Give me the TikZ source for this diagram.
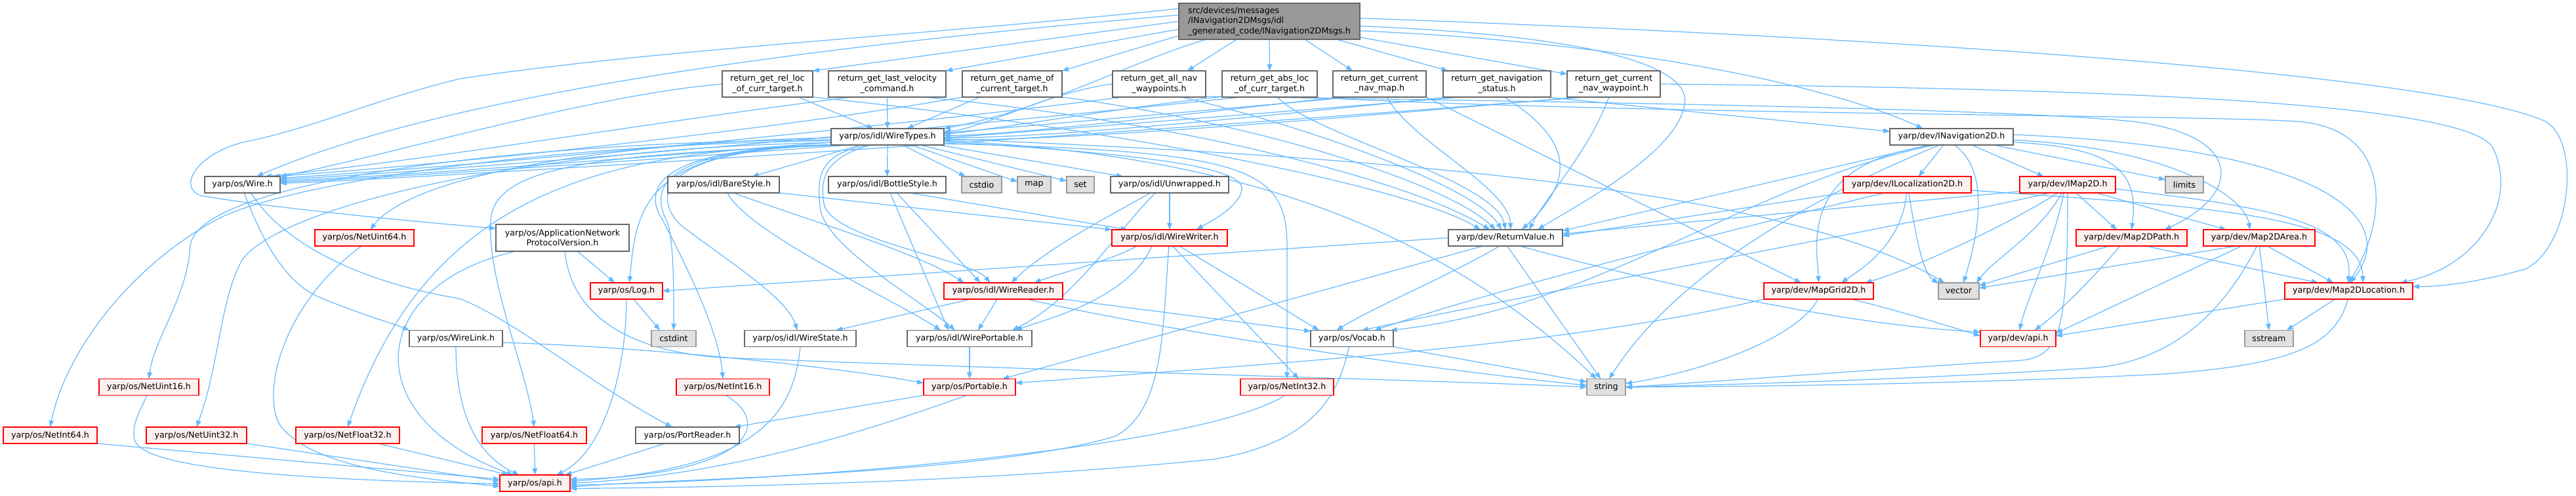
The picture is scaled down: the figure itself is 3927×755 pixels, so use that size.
\documentclass[tikz,border=0pt]{standalone}
\usepackage{fontspec}
\setmainfont{DejaVu Sans}
\usetikzlibrary{arrows.meta}
\pgfdeclarelayer{bg}
\pgfsetlayers{bg,main}
\definecolor{edgec}{HTML}{63B8FF}
\definecolor{bordg}{HTML}{666666}
\definecolor{redb}{HTML}{FF0000}
\definecolor{redf}{HTML}{FFF0F0}
\definecolor{extf}{HTML}{E0E0E0}
\definecolor{extb}{HTML}{999999}
\definecolor{mainf}{HTML}{999999}
\tikzset{
  base/.style={rectangle, inner sep=0pt, outer sep=0pt, line width=1.3pt, font=\fontsize{12.7}{15.5}\selectfont, align=center, text=black},
  nd/.style={base, draw=bordg, fill=white},
  nr/.style={base, draw=redb, fill=redf},
  ng/.style={base, draw=extb, fill=extf},
  nm/.style={base, draw=bordg, fill=mainf, align=left},
  sz/.style 2 args={minimum width=#1pt, minimum height=#2pt},
  e/.style={draw=edgec, line width=1.2pt, -{Triangle[length=10pt,width=7.5pt]}},
}
\begin{document}
\begin{tikzpicture}[x=1pt,y=1pt]
\useasboundingbox (0,0) rectangle (3927,755);
% ---------- nodes ----------
\node[nm, sz={276}{55}] (m) at (1935,722.5) {src/devices/messages\\/INavigation2DMsgs/idl\\\_generated\_code/INavigation2DMsgs.h};
\node[nd, sz={138}{40}] (rel) at (1170,627) {return\_get\_rel\_loc\\\_of\_curr\_target.h};
\node[nd, sz={179}{40}] (lastvel) at (1352.5,627) {return\_get\_last\_velocity\\\_command.h};
\node[nd, sz={152}{40}] (name) at (1543,627) {return\_get\_name\_of\\\_current\_target.h};
\node[nd, sz={142}{40}] (allnav) at (1767,627) {return\_get\_all\_nav\\\_waypoints.h};
\node[nd, sz={145}{40}] (absloc) at (1935.5,627) {return\_get\_abs\_loc\\\_of\_curr\_target.h};
\node[nd, sz={142}{40}] (curmap) at (2103,627) {return\_get\_current\\\_nav\_map.h};
\node[nd, sz={164}{40}] (navstat) at (2282,627) {return\_get\_navigation\\\_status.h};
\node[nd, sz={142}{40}] (curwp) at (2460,627) {return\_get\_current\\\_nav\_waypoint.h};
\node[nd, sz={172}{25}] (wt) at (1353,546.5) {yarp/os/idl/WireTypes.h};
\node[nd, sz={188}{25}] (inav) at (2975,546.5) {yarp/dev/INavigation2D.h};
\node[nd, sz={115}{25}] (wire) at (369.5,473.5) {yarp/os/Wire.h};
\node[nd, sz={170}{25}] (bare) at (1103,473.5) {yarp/os/idl/BareStyle.h};
\node[nd, sz={179}{25}] (bottle) at (1352.5,473.5) {yarp/os/idl/BottleStyle.h};
\node[ng, sz={61}{25}] (cstdio) at (1496.5,473.5) {cstdio};
\node[ng, sz={51}{25}] (map) at (1576.5,473.5) {map};
\node[ng, sz={42}{25}] (set) at (1647,473.5) {set};
\node[nd, sz={180}{25}] (unwr) at (1783,473.5) {yarp/os/idl/Unwrapped.h};
\node[nr, sz={195}{25}] (iloc) at (2907.5,473.5) {yarp/dev/ILocalization2D.h};
\node[nr, sz={146}{25}] (imap) at (3152,473.5) {yarp/dev/IMap2D.h};
\node[ng, sz={58}{25}] (limits) at (3330,473.5) {limits};
\node[nd, sz={203}{41}] (appnet) at (857.5,392.5) {yarp/os/ApplicationNetwork\\ProtocolVersion.h};
\node[nr, sz={151}{25}] (nu64) at (555.5,392.5) {yarp/os/NetUint64.h};
\node[nr, sz={176}{25}] (ww) at (1783,392.5) {yarp/os/idl/WireWriter.h};
\node[nd, sz={174}{25}] (rv) at (2295,392.5) {yarp/dev/ReturnValue.h};
\node[nr, sz={169}{25}] (m2dpath) at (3249.5,392.5) {yarp/dev/Map2DPath.h};
\node[nr, sz={170}{25}] (m2darea) at (3444,392.5) {yarp/dev/Map2DArea.h};
\node[nr, sz={110}{25}] (log) at (955,311.5) {yarp/os/Log.h};
\node[nr, sz={181}{25}] (wr) at (1529.5,311.5) {yarp/os/idl/WireReader.h};
\node[nr, sz={167}{25}] (mapgrid) at (2772.5,311.5) {yarp/dev/MapGrid2D.h};
\node[ng, sz={62}{25}] (vector) at (2986,311.5) {vector};
\node[nr, sz={195}{25}] (m2dloc) at (3580.5,311.5) {yarp/dev/Map2DLocation.h};
\node[nd, sz={142}{25}] (wlink) at (695,239) {yarp/os/WireLink.h};
\node[ng, sz={68}{25}] (cstdint) at (1027,239) {cstdint};
\node[nd, sz={170}{25}] (wstate) at (1220,239) {yarp/os/idl/WireState.h};
\node[nd, sz={190}{25}] (wport) at (1478,239) {yarp/os/idl/WirePortable.h};
\node[nd, sz={126}{25}] (vocab) at (2061,239) {yarp/os/Vocab.h};
\node[nr, sz={115}{25}] (apidev) at (3076.5,239) {yarp/dev/api.h};
\node[ng, sz={74}{25}] (sstream) at (3459,239) {sstream};
\node[nr, sz={152}{25}] (nu16) at (227,165) {yarp/os/NetUint16.h};
\node[nr, sz={142}{25}] (ni16) at (1102,165) {yarp/os/NetInt16.h};
\node[nr, sz={140}{25}] (portable) at (1478,165) {yarp/os/Portable.h};
\node[nr, sz={142}{25}] (ni32) at (1962,165) {yarp/os/NetInt32.h};
\node[ng, sz={59}{25}] (string) at (2448.5,165) {string};
\node[nr, sz={143}{25}] (ni64) at (76.5,91.5) {yarp/os/NetInt64.h};
\node[nr, sz={153}{25}] (nu32) at (299.5,91.5) {yarp/os/NetUint32.h};
\node[nr, sz={158}{25}] (nf32) at (530,91.5) {yarp/os/NetFloat32.h};
\node[nr, sz={159}{25}] (nf64) at (814.5,91.5) {yarp/os/NetFloat64.h};
\node[nd, sz={158}{25}] (portreader) at (1048,91.5) {yarp/os/PortReader.h};
\node[nr, sz={107}{25}] (apios) at (815.5,18.5) {yarp/os/api.h};
% ---------- edges ----------
\begin{pgfonlayer}{bg}
% main
\draw[e] (m.172) .. controls (1400,700) and (1000,680) .. (701,635) .. controls (560,600) and (480,560) .. (370,538) .. controls (300,520) and (270,470) .. (306,457) .. controls (400,440) and (600,420) .. (appnet.172);
\draw[e] (m.176) .. controls (1300,690) and (700,620) .. (wire.30);
\draw[e] (m.180) -- (rel.north east);
\draw[e] (m.185) -- (lastvel.north east);
\draw[e] (m.189) -- (name.north east);
\draw[e] (m.196) .. controls (1720,660) and (1600,590) .. (wt.north east);
\draw[e] (m.209) -- (allnav.25);
\draw[e] (m.270) -- (absloc.north);
\draw[e] (m.333) -- (curmap.154);
\draw[e] (m.345) -- (navstat.165);
\draw[e] (m.350) -- (curwp.168);
\draw[e] (m.354) .. controls (2500,690) and (2800,620) .. (inav.164);
\draw[e] (m.357) .. controls (2450,700) and (2580,650) .. (2568,595) .. controls (2555,520) and (2400,440) .. ([xshift=49pt]rv.north);
\draw[e] (m.2) .. controls (3100,690) and (3750,630) .. (3880,570) .. controls (3935,540) and (3920,380) .. (3850,345) .. controls (3780,325) and (3720,318) .. (m2dloc.4);
% return_* headers
\draw[e] (rel.west) .. controls (900,610) and (600,520) .. (wire.north east);
\draw[e] (rel.337) -- (wt.150);
\draw[e] (rel.south east) .. controls (1700,560) and (2150,470) .. ([xshift=-38pt]rv.north);
\draw[e] (lastvel.200) .. controls (1000,570) and (650,510) .. (wire.20);
\draw[e] (lastvel.south) -- (wt.north);
\draw[e] (lastvel.340) .. controls (1800,570) and (2150,480) .. ([xshift=-24pt]rv.north);
\draw[e] (name.south west) .. controls (1200,560) and (700,505) .. (wire.15);
\draw[e] (name.202) -- (wt.23);
\draw[e] (name.south east) .. controls (1900,570) and (2200,480) .. ([xshift=-15pt]rv.north);
\draw[e] (allnav.200) .. controls (1300,555) and (700,500) .. (wire.10);
\draw[e] (allnav.west) .. controls (1600,615) and (1500,560) .. (wt.5);
\draw[e] (allnav.330) .. controls (2000,560) and (2250,470) .. ([xshift=-6pt]rv.north);
\draw[e] (allnav.345) .. controls (2400,600) and (3050,590) .. (3250,570) .. controls (3420,550) and (3420,460) .. (m2dpath.14);
\draw[e] (absloc.205) .. controls (1400,555) and (700,495) .. (wire.8);
\draw[e] (absloc.195) .. controls (1700,590) and (1500,555) .. (wt.3);
\draw[e] (absloc.300) .. controls (2000,550) and (2280,480) .. (rv.north);
\draw[e] (absloc.340) .. controls (2500,580) and (3350,580) .. (3500,570) .. controls (3650,560) and (3640,420) .. (m2dloc.north);
\draw[e] (curmap.205) .. controls (1500,555) and (700,490) .. (wire.6);
\draw[e] (curmap.198) .. controls (1800,580) and (1550,550) .. (wt.1);
\draw[e] (curmap.300) .. controls (2150,540) and (2300,470) .. ([xshift=8pt]rv.north);
\draw[e] (curmap.south east) -- (mapgrid.155);
\draw[e] (navstat.200) .. controls (1600,555) and (700,488) .. (wire.4);
\draw[e] (navstat.195) .. controls (1900,575) and (1600,545) .. (wt.359);
\draw[e] (navstat.300) .. controls (2400,540) and (2400,480) .. ([xshift=25pt]rv.north);
\draw[e] (navstat.345) -- (inav.175);
\draw[e] (curwp.205) .. controls (1700,550) and (700,486) .. (wire.2);
\draw[e] (curwp.200) .. controls (2000,570) and (1600,540) .. (wt.357);
\draw[e] (curwp.250) .. controls (2420,520) and (2360,460) .. ([xshift=36pt]rv.north);
\draw[e] (curwp.east) .. controls (3200,620) and (3760,600) .. (3800,530) .. controls (3840,450) and (3780,350) .. (m2dloc.9);
% WireTypes
\draw[e] (wt.197) -- (bare.16);
\draw[e] (wt.south) -- (bottle.north);
\draw[e] (wt.331) -- (cstdio.153);
\draw[e] (wt.341) -- (map.170);
\draw[e] (wt.346) -- (set.165);
\draw[e] (wt.351) -- (unwr.170);
\draw[e] (wt.355) .. controls (1750,520) and (1900,500) .. (1893,465) .. controls (1888,440) and (1850,420) .. (ww.17);
\draw[e] (wt.353) .. controls (1900,525) and (1962,500) .. (1962,380) -- (ni32.north);
\draw[e] (wt.356) .. controls (1900,520) and (2200,400) .. (string.140);
\draw[e] (wt.358) .. controls (2000,520) and (2700,480) .. (vector.150);
\draw[e] (wt.181) .. controls (1000,540) and (640,500) .. (nu64.55);
\draw[e] (wt.183) .. controls (800,540) and (300,480) .. (290,380) .. controls (285,300) and (235,240) .. (nu16.north);
\draw[e] (wt.184) .. controls (800,535) and (420,470) .. (330,420) .. controls (200,350) and (100,220) .. (ni64.north);
\draw[e] (wt.186) .. controls (800,530) and (430,440) .. (370,360) .. controls (335,300) and (335,200) .. (nu32.north);
\draw[e] (wt.188) .. controls (900,525) and (650,450) .. (nf32.north);
\draw[e] (wt.190) .. controls (900,520) and (755,500) .. (748,420) .. controls (742,330) and (800,200) .. (nf64.north);
\draw[e] (wt.192) .. controls (980,535) and (970,440) .. (log.70);
\draw[e] (wt.194) .. controls (960,535) and (990,450) .. (1010,420) .. controls (1030,380) and (1095,260) .. (ni16.north);
\draw[e] (wt.196) .. controls (965,535) and (1000,450) .. (1018,415) .. controls (1028,380) and (1027,300) .. (cstdint.north);
\draw[e] (wt.199) .. controls (975,535) and (1000,445) .. (1040,410) .. controls (1120,350) and (1200,300) .. (wstate.110);
\draw[e] (wt.203) .. controls (1250,520) and (1245,490) .. (1250,440) .. controls (1255,380) and (1400,300) .. ([xshift=-22pt]wport.north);
\draw[e] (wt.207) .. controls (1255,515) and (1250,480) .. (1256,445) .. controls (1265,390) and (1480,360) .. ([xshift=-20pt]wr.north);
% Wire.h
\draw[e] (wire.282) .. controls (395,400) and (430,330) .. (480,305) .. controls (550,275) and (600,262) .. (wlink.north west);
\draw[e] (wire.317) .. controls (420,400) and (520,330) .. (700,300) .. controls (780,270) and (900,170) .. (portreader.152);
% WireLink
\draw[e] (wlink.south) .. controls (695,120) and (730,60) .. ([xshift=-24pt]apios.north);
\draw[e] (wlink.355) .. controls (950,228) and (1250,200) .. (portable.175);
% ApplicationNetworkProtocolVersion
\draw[e] (appnet.318) -- (log.145);
\draw[e] (appnet.196) .. controls (560,320) and (540,120) .. ([xshift=-33pt]apios.north);
\draw[e] (appnet.280) .. controls (870,280) and (950,220) .. (1100,210) .. controls (1600,190) and (2200,175) .. (string.west);
% Log
\draw[e] (log.south) .. controls (955,200) and (925,70) .. ([xshift=33pt]apios.north);
\draw[e] (log.311) -- (cstdint.149);
% Net* and others to api.h
\draw[e] (ni64.south east) -- ([yshift=6pt]apios.west);
\draw[e] (nu32.south east) -- ([yshift=3pt]apios.west);
\draw[e] (nf32.345) -- ([xshift=-40pt]apios.north);
\draw[e] (nf64.south) -- (apios.north);
\draw[e] (nu16.255) .. controls (215,130) and (200,110) .. (205,85) .. controls (215,45) and (400,25) .. ([yshift=-1pt]apios.west);
\draw[e] (nu64.250) .. controls (430,290) and (400,160) .. (425,110) .. controls (470,40) and (650,25) .. ([yshift=-5pt]apios.west);
\draw[e] (ni16.290) .. controls (1185,105) and (1130,30) .. ([yshift=6pt]apios.east);
\draw[e] (wstate.south) .. controls (1210,120) and (1150,40) .. ([yshift=3pt]apios.east);
\draw[e] (portable.250) .. controls (1300,90) and (1100,30) .. (apios.east);
\draw[e] (portable.south west) -- (portreader.10);
\draw[e] (portreader.200) -- ([xshift=46pt]apios.north);
\draw[e] (ni32.255) .. controls (1850,80) and (1300,25) .. ([yshift=-3pt]apios.east);
\draw[e] (ww.265) .. controls (1772,250) and (1775,130) .. (1700,90) .. controls (1500,30) and (1000,25) .. ([yshift=-6pt]apios.east);
\draw[e] (vocab.250) .. controls (2040,150) and (2000,80) .. (1850,55) .. controls (1500,20) and (1100,12) .. ([yshift=-8pt]apios.east);
\draw[e] (vocab.south east) -- (string.165);
% idl styles
\draw[e] (bare.south east) -- (ww.172);
\draw[e] (bare.320) .. controls (1230,420) and (1400,370) .. ([xshift=-60pt]wr.north);
\draw[e] (bare.295) .. controls (1140,400) and (1360,300) .. ([xshift=-44pt]wport.north);
\draw[e] (bottle.340) -- (ww.169);
\draw[e] (bottle.319) -- ([xshift=-35pt]wr.north);
\draw[e] (bottle.290) -- ([xshift=-32pt]wport.north);
\draw[e] (unwr.south) -- (ww.north);
\draw[e] (unwr.203) .. controls (1700,430) and (1600,380) .. ([xshift=12pt]wr.north);
\draw[e] (unwr.210) .. controls (1700,400) and (1640,300) .. ([xshift=65pt]wport.north);
\draw[e] (ww.194) .. controls (1700,360) and (1620,340) .. ([xshift=47pt]wr.north);
\draw[e] (ww.205) .. controls (1720,300) and (1600,270) .. ([xshift=70pt]wport.north);
\draw[e] (ww.290) -- (ni32.35);
\draw[e] (ww.320) -- (vocab.166);
\draw[e] (wr.194) -- (wstate.13);
\draw[e] (wr.233) -- ([xshift=13pt]wport.north);
\draw[e] (wr.south east) -- (vocab.170);
\draw[e] (wr.341) .. controls (1800,245) and (2200,190) .. (string.175);
\draw[e] (wport.south) -- (portable.north);
% ReturnValue
\draw[e] (rv.west) -- (log.east);
\draw[e] (rv.282) -- (string.124);
\draw[e] (rv.235) .. controls (2200,330) and (2100,290) .. (vocab.152);
\draw[e] (rv.200) -- (portable.14);
\draw[e] (rv.330) .. controls (2500,330) and (2800,260) .. (apidev.170);
% INavigation2D
\draw[e] (inav.226) -- (iloc.36);
\draw[e] (inav.338) -- (imap.161);
\draw[e] (inav.349) -- (limits.165);
\draw[e] (inav.355) .. controls (3230,530) and (3260,490) .. (m2dpath.north);
\draw[e] (inav.357) .. controls (3300,530) and (3420,460) .. (m2darea.138);
\draw[e] (inav.2) .. controls (3550,530) and (3660,420) .. (m2dloc.80);
\draw[e] (inav.200) -- (rv.7);
\draw[e] (inav.210) .. controls (2740,510) and (2770,380) .. (mapgrid.north);
\draw[e] (inav.205) .. controls (2650,470) and (2450,290) .. (vocab.12);
\draw[e] (inav.215) .. controls (2750,450) and (2550,330) .. (string.70);
\draw[e] (inav.290) .. controls (3040,490) and (3010,380) .. (vector.60);
% ILocalization2D
\draw[e] (iloc.south west) -- (rv.2);
\draw[e] (iloc.200) .. controls (2700,420) and (2300,320) .. (vocab.20);
\draw[e] (iloc.355) .. controls (3350,440) and (3600,430) .. (m2dloc.30);
\draw[e] (iloc.265) .. controls (2900,380) and (2830,340) .. (mapgrid.20);
\draw[e] (iloc.280) .. controls (2920,400) and (2930,340) .. (vector.160);
% IMap2D
\draw[e] (imap.188) -- (rv.4);
\draw[e] (imap.205) .. controls (2950,420) and (2350,310) .. (vocab.40);
\draw[e] (imap.220) .. controls (3040,400) and (2900,340) .. (mapgrid.10);
\draw[e] (imap.235) .. controls (3110,400) and (3040,360) .. (vector.25);
\draw[e] (imap.south) .. controls (3152,240) and (3140,208) .. (3070,205) .. controls (2900,195) and (2600,172) .. (string.east);
\draw[e] (imap.316) -- (m2dpath.151);
\draw[e] (imap.344) -- (m2darea.166);
\draw[e] (imap.355) .. controls (3450,440) and (3590,420) .. (m2dloc.95);
\draw[e] (imap.245) .. controls (3130,380) and (3090,300) .. ([xshift=2pt]apidev.north);
% Map2DPath / Map2DArea / Map2DLocation / MapGrid2D
\draw[e] (m2dpath.330) -- (m2dloc.165);
\draw[e] (m2dpath.200) -- (vector.15);
\draw[e] (m2dpath.215) .. controls (3190,330) and (3140,280) .. ([xshift=25pt]apidev.north);
\draw[e] (m2darea.315) -- (m2dloc.152);
\draw[e] (m2darea.272) -- (sstream.north);
\draw[e] (m2darea.200) -- (vector.8);
\draw[e] (m2darea.205) -- (apidev.8);
\draw[e] (m2darea.255) .. controls (3400,300) and (3330,210) .. (3200,195) .. controls (2900,175) and (2600,168) .. (string.east);
\draw[e] (m2dloc.south west) -- (apidev.4);
\draw[e] (m2dloc.211) -- (sstream.25);
\draw[e] (m2dloc.265) .. controls (3560,230) and (3500,200) .. (3300,185) .. controls (3000,170) and (2700,166) .. (string.east);
\draw[e] (mapgrid.346) .. controls (2900,280) and (2980,255) .. (apidev.176);
\draw[e] (mapgrid.265) .. controls (2740,240) and (2600,190) .. (string.10);
\draw[e] (mapgrid.south west) .. controls (2400,230) and (2000,205) .. (portable.5);
\end{pgfonlayer}
\end{tikzpicture}
\end{document}
